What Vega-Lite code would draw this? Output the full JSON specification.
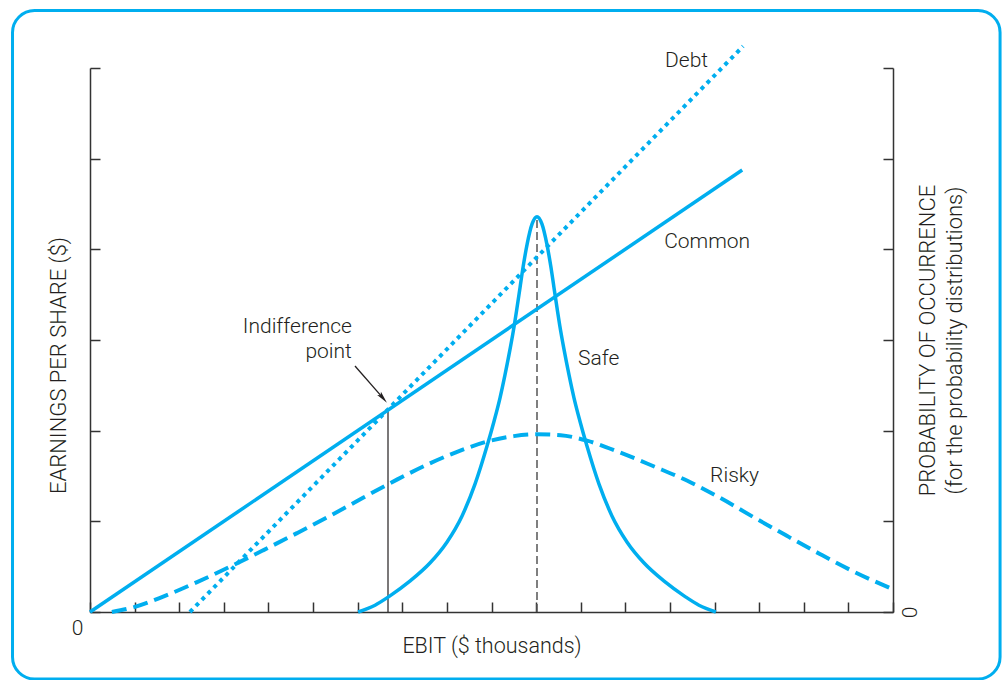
{
  "$schema": "https://vega.github.io/schema/vega-lite/v6.json",
  "width": 803,
  "height": 544,
  "autosize": {"type": "none"},
  "padding": {"left": 90, "top": 68, "right": 113, "bottom": 68},
  "background": "white",
  "config": {
    "view": {"stroke": null},
    "font": "Roboto",
    "axis": {
      "grid": false,
      "domainColor": "#333333",
      "tickColor": "#333333",
      "domainWidth": 1.5,
      "tickWidth": 1.5,
      "labelFont": "Roboto",
      "labelFontWeight": 300,
      "labelColor": "#231f20",
      "labelFontSize": 21,
      "titleFont": "Roboto",
      "titleFontWeight": 300,
      "titleColor": "#231f20",
      "titleFontSize": 22
    },
    "text": {"font": "Roboto", "fontWeight": 300, "fontSize": 21, "color": "#231f20"}
  },
  "datasets": {
    "common": [{"x": 0, "y": 0}, {"x": 14.62, "y": 4.875}],
    "debt": [{"x": 2.24, "y": 0}, {"x": 14.64, "y": 6.24}],
    "safe": [
      {"x": 6.01, "y": 0}, {"x": 6.39, "y": 0.075}, {"x": 6.70, "y": 0.17}, {"x": 7.17, "y": 0.34},
      {"x": 7.62, "y": 0.54}, {"x": 8.00, "y": 0.77}, {"x": 8.34, "y": 1.06}, {"x": 8.63, "y": 1.41},
      {"x": 8.90, "y": 1.83}, {"x": 9.06, "y": 2.11}, {"x": 9.19, "y": 2.36}, {"x": 9.30, "y": 2.61},
      {"x": 9.42, "y": 2.91}, {"x": 9.51, "y": 3.16}, {"x": 9.57, "y": 3.35}, {"x": 9.64, "y": 3.58},
      {"x": 9.71, "y": 3.81}, {"x": 9.80, "y": 4.06}, {"x": 9.91, "y": 4.28}, {"x": 10.02, "y": 4.36},
      {"x": 10.13, "y": 4.28}, {"x": 10.24, "y": 4.06}, {"x": 10.33, "y": 3.81}, {"x": 10.40, "y": 3.58},
      {"x": 10.47, "y": 3.35}, {"x": 10.53, "y": 3.16}, {"x": 10.62, "y": 2.91}, {"x": 10.74, "y": 2.61},
      {"x": 10.85, "y": 2.36}, {"x": 10.98, "y": 2.11}, {"x": 11.14, "y": 1.83}, {"x": 11.41, "y": 1.41},
      {"x": 11.70, "y": 1.06}, {"x": 12.04, "y": 0.77}, {"x": 12.42, "y": 0.54}, {"x": 12.87, "y": 0.34},
      {"x": 13.34, "y": 0.17}, {"x": 13.65, "y": 0.075}, {"x": 14.03, "y": 0}
    ],
    "risky": [
      {"x": 0.49, "y": 0}, {"x": 0.96, "y": 0.05}, {"x": 1.64, "y": 0.17}, {"x": 2.40, "y": 0.33},
      {"x": 3.14, "y": 0.50}, {"x": 3.88, "y": 0.68}, {"x": 4.64, "y": 0.87}, {"x": 5.38, "y": 1.06},
      {"x": 6.12, "y": 1.26}, {"x": 6.88, "y": 1.46}, {"x": 7.62, "y": 1.64}, {"x": 8.30, "y": 1.78},
      {"x": 8.90, "y": 1.88}, {"x": 9.50, "y": 1.94}, {"x": 10.02, "y": 1.96}, {"x": 10.55, "y": 1.95},
      {"x": 11.14, "y": 1.89}, {"x": 11.88, "y": 1.76}, {"x": 12.62, "y": 1.61}, {"x": 13.38, "y": 1.45},
      {"x": 14.12, "y": 1.26}, {"x": 14.86, "y": 1.05}, {"x": 15.62, "y": 0.84}, {"x": 16.36, "y": 0.64},
      {"x": 17.10, "y": 0.45}, {"x": 18.0, "y": 0.25}
    ],
    "leftLabels": [
      {"text": "Debt", "x": 12.89, "y": 6.01},
      {"text": "Common", "x": 12.87, "y": 4.01},
      {"text": "Safe", "x": 10.94, "y": 2.72},
      {"text": "Risky", "x": 13.90, "y": 1.43}
    ],
    "rightLabels": [
      {"text": "Indifference", "x": 5.87, "y": 3.08},
      {"text": "point", "x": 5.87, "y": 2.80}
    ]
  },
  "resolve": {"axis": {"x": "independent", "y": "independent"}},
  "layer": [
    {
      "data": {"values": [{}]},
      "mark": {"type": "rect", "fillOpacity": 0, "stroke": "#00aeef", "strokeWidth": 3, "cornerRadius": 22},
      "encoding": {
        "x": {"datum": -1.737, "type": "quantitative", "scale": {"domain": [0, 18], "nice": false}, "axis": null},
        "x2": {"datum": 20.40},
        "y": {"datum": 6.634, "type": "quantitative", "scale": {"domain": [0, 6], "nice": false}, "axis": null},
        "y2": {"datum": -0.739}
      }
    },
    {
      "data": {"values": [{}]},
      "mark": {"type": "rule", "color": "#555555", "strokeWidth": 1.5, "strokeDash": [8, 4]},
      "encoding": {
        "x": {"datum": 10.02, "type": "quantitative", "axis": null},
        "y": {"datum": 0, "type": "quantitative", "axis": null},
        "y2": {"datum": 4.34}
      }
    },
    {
      "data": {"values": [{}]},
      "mark": {"type": "rule", "color": "#231f20", "strokeWidth": 1.2},
      "encoding": {
        "x": {"datum": 6.68, "type": "quantitative", "axis": null},
        "y": {"datum": 0, "type": "quantitative", "axis": null},
        "y2": {"datum": 2.23}
      }
    },
    {
      "data": {"values": [{}]},
      "mark": {"type": "rule", "color": "#231f20", "strokeWidth": 1.3},
      "encoding": {
        "x": {"datum": 5.94, "type": "quantitative", "axis": null},
        "x2": {"datum": 6.55},
        "y": {"datum": 2.713, "type": "quantitative", "axis": null},
        "y2": {"datum": 2.37}
      }
    },
    {
      "data": {"values": [{}]},
      "mark": {"type": "point", "shape": "M0,-1L0.4,1L0,0.6L-0.4,1Z", "filled": true, "fill": "#231f20", "stroke": null, "size": 150, "angle": 140, "opacity": 1},
      "encoding": {
        "x": {"datum": 6.568, "type": "quantitative", "axis": null},
        "y": {"datum": 2.36, "type": "quantitative", "axis": null}
      }
    },
    {
      "data": {"name": "risky"},
      "mark": {"type": "line", "color": "#00aeef", "strokeWidth": 4, "strokeDash": [15, 7], "interpolate": "monotone"},
      "encoding": {
        "x": {"field": "x", "type": "quantitative", "axis": null},
        "y": {"field": "y", "type": "quantitative", "axis": null}
      }
    },
    {
      "data": {"name": "safe"},
      "mark": {"type": "line", "color": "#00aeef", "strokeWidth": 3.5, "interpolate": "monotone"},
      "encoding": {
        "x": {"field": "x", "type": "quantitative", "axis": null},
        "y": {"field": "y", "type": "quantitative", "axis": null}
      }
    },
    {
      "data": {"name": "debt"},
      "mark": {"type": "line", "color": "#00aeef", "strokeWidth": 4, "strokeDash": [4, 4.5]},
      "encoding": {
        "x": {"field": "x", "type": "quantitative", "axis": null},
        "y": {"field": "y", "type": "quantitative",
          "axis": {
            "orient": "right",
            "values": [0, 1, 2, 3, 4, 5, 6],
            "tickSize": -10,
            "labelExpr": "datum.value == 0 ? '0' : ''",
            "labelAngle": 270,
            "labelAlign": "center",
            "labelBaseline": "middle",
            "labelPadding": 27,
            "title": ["PROBABILITY OF OCCURRENCE", "(for the probability distributions)"],
            "titleAngle": 270,
            "titleX": 41,
            "titleY": 272,
            "titleAlign": "center",
            "titleBaseline": "alphabetic",
            "titleLineHeight": 27
          }
        }
      }
    },
    {
      "data": {"name": "common"},
      "mark": {"type": "line", "color": "#00aeef", "strokeWidth": 3.5},
      "encoding": {
        "x": {"field": "x", "type": "quantitative",
          "axis": {
            "orient": "bottom",
            "values": [0, 1, 2, 3, 4, 5, 6, 7, 8, 9, 10, 11, 12, 13, 14, 15, 16, 17, 18],
            "tickSize": -10,
            "labels": false,
            "title": "EBIT ($ thousands)",
            "titleFontSize": 21.5,
            "titleY": 40,
            "titleBaseline": "alphabetic"
          }
        },
        "y": {"field": "y", "type": "quantitative",
          "axis": {
            "orient": "left",
            "values": [0, 1, 2, 3, 4, 5, 6],
            "tickSize": -10,
            "labelExpr": "datum.value == 0 ? '0' : ''",
            "labelBaseline": "top",
            "labelOffset": 5,
            "labelPadding": 17,
            "title": "EARNINGS PER SHARE ($)",
            "titleAngle": 270,
            "titleX": -25,
            "titleY": 297,
            "titleAlign": "center",
            "titleBaseline": "alphabetic"
          }
        }
      }
    },
    {
      "data": {"name": "leftLabels"},
      "mark": {"type": "text", "align": "left", "baseline": "alphabetic"},
      "encoding": {
        "x": {"field": "x", "type": "quantitative", "axis": null},
        "y": {"field": "y", "type": "quantitative", "axis": null},
        "text": {"field": "text"}
      }
    },
    {
      "data": {"name": "rightLabels"},
      "mark": {"type": "text", "align": "right", "baseline": "alphabetic"},
      "encoding": {
        "x": {"field": "x", "type": "quantitative", "axis": null},
        "y": {"field": "y", "type": "quantitative", "axis": null},
        "text": {"field": "text"}
      }
    }
  ]
}
